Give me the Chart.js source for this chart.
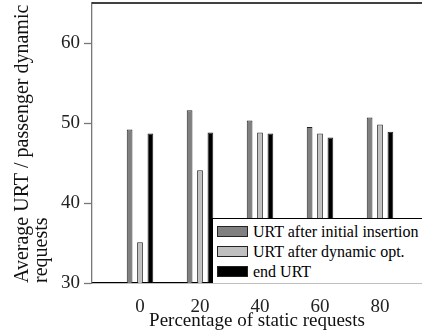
<!DOCTYPE html>
<html>
<head>
<meta charset="utf-8">
<script src="https://cdn.jsdelivr.net/npm/chart.js@4.4.0/dist/chart.umd.min.js"></script>
<style>
    html, body { margin: 0; padding: 0; background: #fff; overflow: hidden; }
    #wrap { position: relative; width: 422px; height: 335px; }
    #legend {
        position: absolute; left: 212px; top: 218px; width: 220px; height: 64px;
        background: #fff; border-top: 1.5px solid #000; border-left: 1.5px solid #000;
        font: 16px "Liberation Serif", serif; color: #000;
    }
    .item { position: absolute; left: 4px; height: 20px; line-height: 20px; white-space: nowrap; }
    .sw { display: inline-block; width: 29px; height: 9px; border: 1px solid #222; vertical-align: middle; margin-right: 5px; margin-top: -3px; }
</style>
</head>
<body>
<div id="wrap">
    <canvas id="chart" width="422" height="335"></canvas>
    <div id="legend"></div>
</div>
<script>
// Data
var categories = [0, 20, 40, 60, 80];
var seriesNames = ['URT after initial insertion', 'URT after dynamic opt.', 'end URT'];
var initialInsertion = [49.2, 51.6, 50.3, 49.5, 50.7];
var afterDynamicOpt = [35.1, 44.1, 48.8, 48.7, 49.8];
var endUrt = [48.7, 48.8, 48.7, 48.2, 48.9];
var yTicks = [30, 40, 50, 60];

var colors = ['#808080', '#c0c0c0', '#000000'];
var serif = '"Liberation Serif", serif';

function points(values) {
    return categories.map(function(c, i) {
        return { x: c, y: values[i] };
    });
}

// Top edge of the frame
var topFrame = {
    id: 'topFrame',
    afterDraw: function(chart) {
        var a = chart.chartArea, c = chart.ctx;
        c.save();
        c.strokeStyle = '#000';
        c.lineWidth = 1.3;
        c.beginPath();
        c.moveTo(a.left, a.top);
        c.lineTo(a.right, a.top);
        c.stroke();
        c.restore();
    }
};

var ctx = document.getElementById('chart').getContext('2d');
var chart = new Chart(ctx, {
    type: 'bar',
    data: {
        datasets: [initialInsertion, afterDynamicOpt, endUrt].map(function(vals, i) {
            return {
                label: seriesNames[i],
                data: points(vals),
                backgroundColor: colors[i],
                borderColor: '#222',
                borderWidth: 1,
                categoryPercentage: 0.52,
                barPercentage: 0.55
            };
        })
    },
    options: {
        responsive: false,
        animation: false,
        devicePixelRatio: 1,
        layout: { padding: { top: 3, left: 0, right: 0, bottom: 0 } },
        plugins: {
            legend: { display: false },
            tooltip: { enabled: false }
        },
        scales: {
            x: {
                type: 'linear',
                min: -16,
                max: 94,
                offset: false,
                afterBuildTicks: function(scale) {
                    scale.ticks = categories.map(function(v) { return { value: v }; });
                },
                afterFit: function(scale) {
                    scale.height = 52;
                    scale.paddingLeft = 0;
                    scale.paddingRight = 0;
                },
                grid: { display: false },
                border: { color: '#000', width: 1.3 },
                ticks: {
                    color: '#222',
                    padding: 5,
                    maxRotation: 0,
                    font: { family: serif, size: 19 }
                },
                title: {
                    display: true,
                    text: 'Percentage of static requests',
                    color: '#111',
                    padding: 0,
                    font: { family: serif, size: 19, lineHeight: 1.5 }
                }
            },
            y: {
                min: 30,
                max: 65,
                afterBuildTicks: function(scale) {
                    scale.ticks = yTicks.map(function(v) { return { value: v }; });
                },
                afterFit: function(scale) {
                    scale.width = 92;
                    scale.paddingTop = 0;
                    scale.paddingBottom = 0;
                },
                grid: { drawOnChartArea: false, tickLength: 8, color: '#777', tickWidth: 1.3 },
                border: { color: '#777', width: 1.3 },
                ticks: {
                    color: '#222',
                    padding: 4,
                    font: { family: serif, size: 19 }
                },
                title: {
                    display: true,
                    align: 'start',
                    text: ['Average URT / passenger dynamic', 'requests'],
                    color: '#111',
                    padding: { top: 13.5, bottom: 0 },
                    font: { family: serif, size: 20, lineHeight: 0.95 }
                }
            }
        }
    },
    plugins: [topFrame]
});

// Legend in the lower-right corner of the plot
var legend = document.getElementById('legend');
seriesNames.forEach(function(name, i) {
    var row = document.createElement('div');
    row.className = 'item';
    row.style.top = (3 + i * 20) + 'px';
    row.innerHTML = '<span class="sw" style="background:' + colors[i] + '"></span>' + name;
    legend.appendChild(row);
});
</script>
</body>
</html>
